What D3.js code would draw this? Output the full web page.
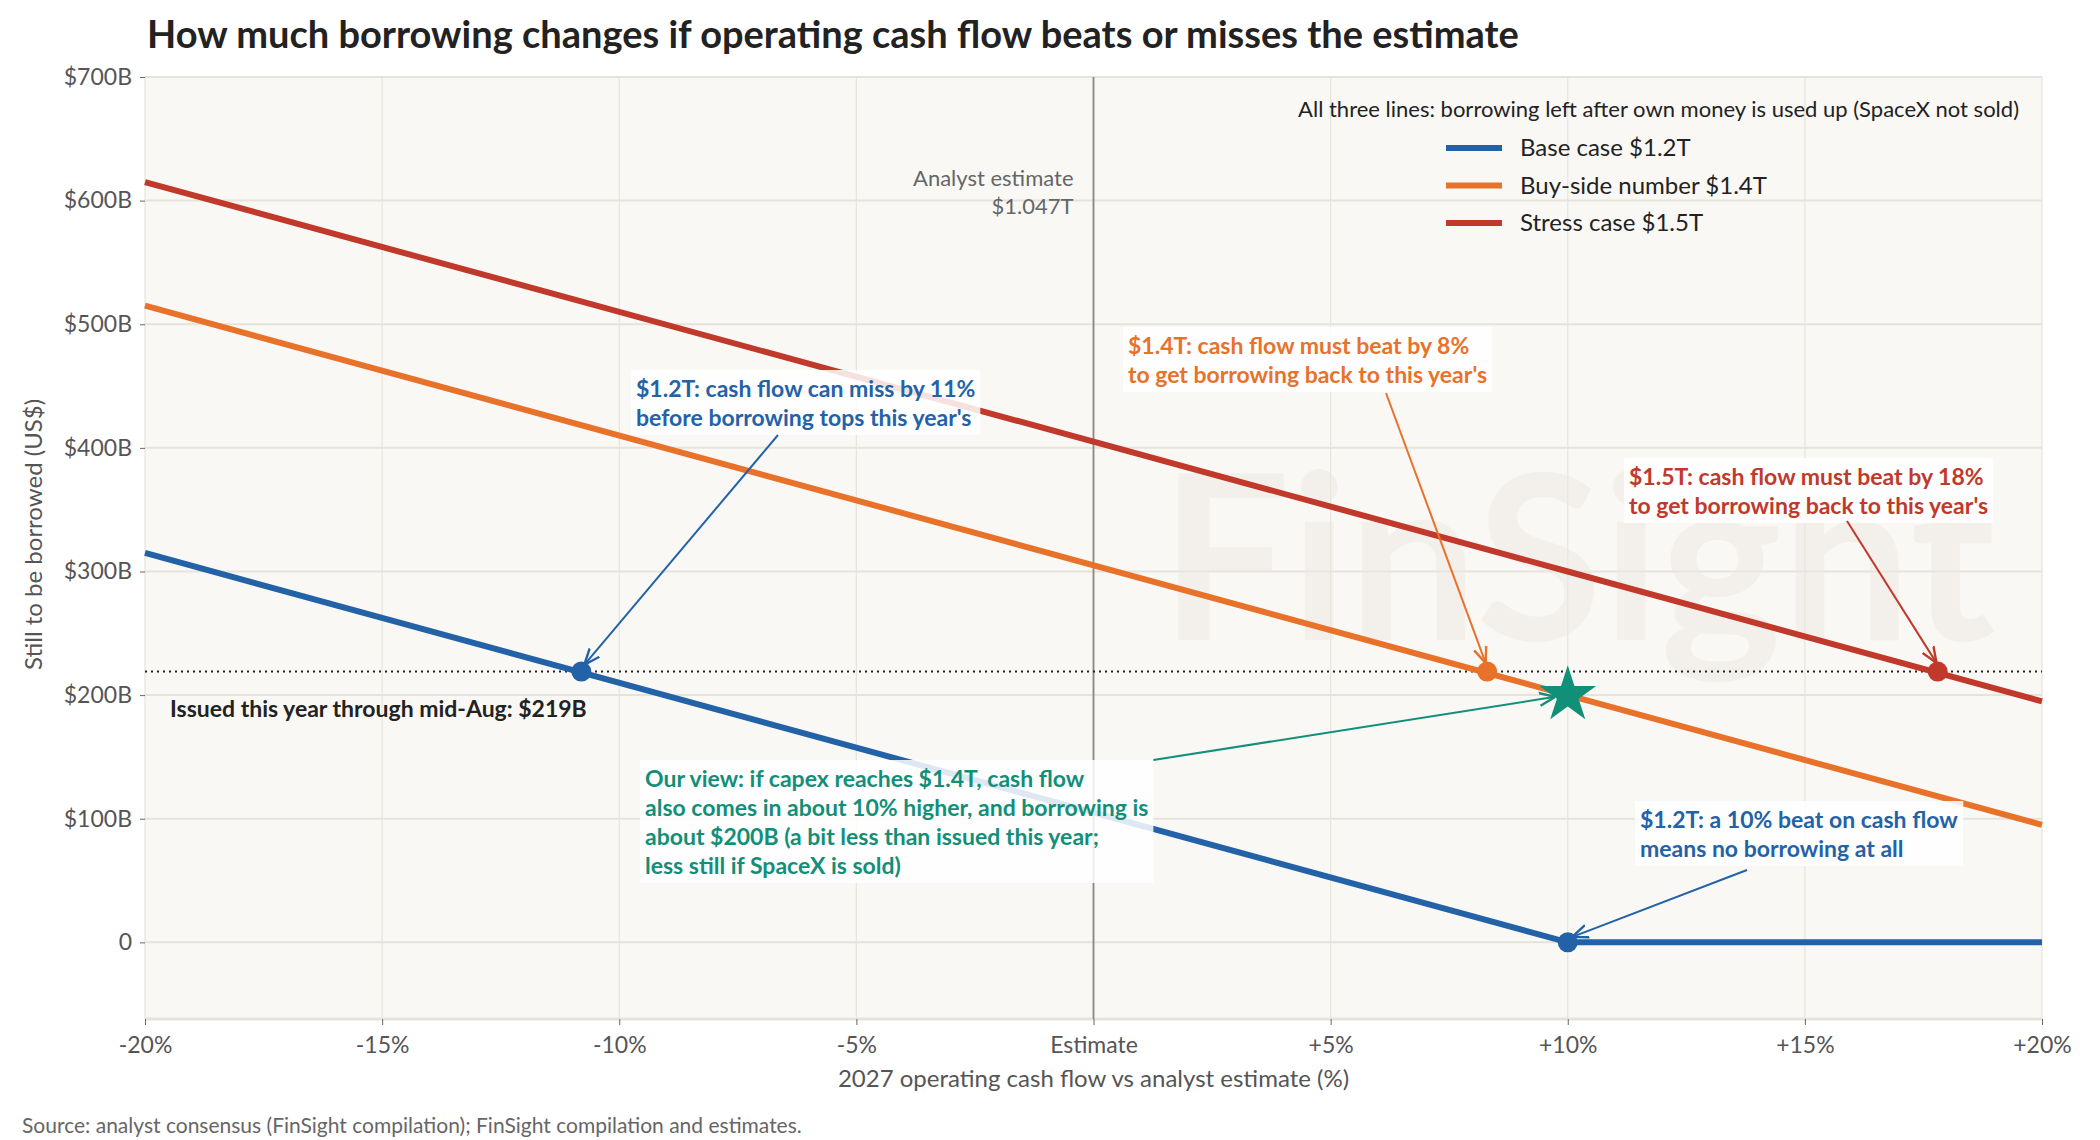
<!DOCTYPE html>
<html><head><meta charset="utf-8">
<script src="https://cdn.jsdelivr.net/npm/d3@7"></script>
<style>body{margin:0;background:#fff;font-family:Lato,"Noto Sans",sans-serif}</style>
</head><body><div id="chart"></div>
<script>
// scenario lines: x = % vs estimate, y = $B still to borrow
var xPts = [-20, 10, 20];
var baseVals = [315, 0, 0];
var buyVals = [515, 200, 95];
var stressVals = [615, 300, 195];
var issued = 219;
var xTicks = [-20, -15, -10, -5, 0, 5, 10, 15, 20];
var xTickLabels = ["-20%", "-15%", "-10%", "-5%", "Estimate", "+5%", "+10%", "+15%", "+20%"];
var yTicks = [0, 100, 200, 300, 400, 500, 600, 700];
var yTickLabels = ["0", "$100B", "$200B", "$300B", "$400B", "$500B", "$600B", "$700B"];
var seriesNames = ["Base case $1.2T", "Buy-side number $1.4T", "Stress case $1.5T"];
var colors = ["#2462a8", "#e8722a", "#c0392b"];
var green = "#128f78";

var W = 2100, H = 1140;
var m = {left: 145, right: 58, top: 77, bottom: 121};
var svg = d3.select("#chart").append("svg").attr("width", W).attr("height", H);
var x = d3.scaleLinear().domain([-20, 20]).range([m.left, W - m.right]);
var y = d3.scaleLinear().domain([-62, 700]).range([H - m.bottom, m.top]);

// title
svg.append("text").attr("x", 147).attr("y", 48).attr("font-size", 38).attr("font-weight", 700)
    .attr("fill", "#222").text("How much borrowing changes if operating cash flow beats or misses the estimate");

// plot background + grid
svg.append("rect").attr("x", x(-20)).attr("y", y(700)).attr("width", x(20) - x(-20))
    .attr("height", y(-62) - y(700)).attr("fill", "#f9f8f5");
svg.selectAll(".gx").data(xTicks).enter().append("line")
    .attr("x1", d => x(d)).attr("x2", d => x(d)).attr("y1", y(700)).attr("y2", y(-62))
    .attr("stroke", "#e8e5de").attr("stroke-width", 1.3);
svg.selectAll(".gy").data(yTicks).enter().append("line")
    .attr("x1", x(-20)).attr("x2", x(20)).attr("y1", d => y(d)).attr("y2", d => y(d))
    .attr("stroke", "#e6e3db").attr("stroke-width", 2);
svg.append("line").attr("x1", x(-20)).attr("x2", x(20)).attr("y1", y(-62)).attr("y2", y(-62))
    .attr("stroke", "#e6e3db").attr("stroke-width", 3);

// faint watermark
svg.append("text").attr("x", 1160).attr("y", 640).attr("font-size", 230).attr("font-weight", 700)
    .attr("fill", "#ece8e1").attr("opacity", 0.45).text("FinSight");

// axes
var xa = svg.append("g").attr("transform", "translate(0," + y(-62) + ")")
    .call(d3.axisBottom(x).tickValues(xTicks).tickFormat((d, i) => xTickLabels[i]).tickSize(6).tickPadding(12));
var ya = svg.append("g").attr("transform", "translate(" + x(-20) + ",0)")
    .call(d3.axisLeft(y).tickValues(yTicks).tickFormat((d, i) => yTickLabels[i]).tickSize(5).tickPadding(8));
[xa, ya].forEach(function(a) {
    a.select(".domain").remove();
    a.selectAll("text").attr("font-size", 23).attr("fill", "#555").attr("font-family", "Lato");
    a.selectAll("line").attr("stroke", "#666");
});

svg.append("text").attr("x", x(0)).attr("y", 1087).attr("text-anchor", "middle").attr("font-size", 24)
    .attr("fill", "#555").text("2027 operating cash flow vs analyst estimate (%)");
svg.append("text").attr("transform", "translate(42," + y(330) + ") rotate(-90)").attr("text-anchor", "middle")
    .attr("font-size", 24).attr("fill", "#555").text("Still to be borrowed (US$)");
svg.append("text").attr("x", 22).attr("y", 1133).attr("font-size", 21).attr("fill", "#666")
    .text("Source: analyst consensus (FinSight compilation); FinSight compilation and estimates.");

// estimate line
svg.append("line").attr("x1", x(0)).attr("x2", x(0)).attr("y1", y(700)).attr("y2", y(-62))
    .attr("stroke", "#888").attr("stroke-width", 1.8);
svg.append("text").attr("x", x(0) - 20).attr("y", 186).attr("text-anchor", "end").attr("font-size", 22)
    .attr("fill", "#666").text("Analyst estimate");
svg.append("text").attr("x", x(0) - 20).attr("y", 214).attr("text-anchor", "end").attr("font-size", 22)
    .attr("fill", "#666").text("$1.047T");

// issued dotted line
svg.append("line").attr("x1", x(-20)).attr("x2", x(20)).attr("y1", y(issued)).attr("y2", y(issued))
    .attr("stroke", "#222").attr("stroke-width", 2).attr("stroke-dasharray", "2,4");
svg.append("text").attr("x", 170).attr("y", 717).attr("font-size", 23).attr("font-weight", 700)
    .attr("fill", "#222").text("Issued this year through mid-Aug: $219B");

// lines
var line = d3.line().x(d => x(d[0])).y(d => y(d[1]));
[baseVals, buyVals, stressVals].forEach(function(vals, i) {
    svg.append("path").datum(xPts.map((p, j) => [p, vals[j]]))
        .attr("d", line).attr("fill", "none").attr("stroke", colors[i]).attr("stroke-width", 6);
});

// annotation helper
var marker = svg.append("defs");
function arrowHead(id, c) {
    marker.append("marker").attr("id", id).attr("viewBox", "0 0 10 10").attr("refX", 9).attr("refY", 5)
        .attr("markerWidth", 8).attr("markerHeight", 8).attr("orient", "auto")
        .append("path").attr("d", "M0,1 L10,5 L0,9").attr("fill", "none").attr("stroke", c).attr("stroke-width", 1.5);
}
// fx = null: start the arrow from the box's top-right corner
function note(lines, tx, ty, c, fx, fy, px, py, id) {
    var g = svg.append("g");
    var bg = g.append("rect").attr("fill", "#fff").attr("opacity", 0.85);
    var t = g.append("text").attr("font-size", 23).attr("font-weight", 700).attr("fill", c);
    lines.forEach((l, i) => t.append("tspan").attr("x", tx).attr("y", ty + i * 29).text(l));
    var b = t.node().getBBox();
    bg.attr("x", b.x - 5).attr("y", b.y - 4).attr("width", b.width + 10).attr("height", b.height + 8);
    if (fx === null) { fx = b.x + b.width + 5; fy = b.y - 4; }
    arrowHead(id, c);
    svg.append("line").attr("x1", fx).attr("y1", fy).attr("x2", px).attr("y2", py)
        .attr("stroke", c).attr("stroke-width", 2).attr("marker-end", "url(#" + id + ")");
}
note(["$1.2T: cash flow can miss by 11%", "before borrowing tops this year's"], 636, 397, colors[0],
    778, 435, x(-10.8) + 4, y(issued) - 8, "a1");
note(["$1.4T: cash flow must beat by 8%", "to get borrowing back to this year's"], 1128, 354, colors[1],
    1386, 393, x(8.3) - 2, y(issued) - 10, "a2");
note(["$1.5T: cash flow must beat by 18%", "to get borrowing back to this year's"], 1629, 485, colors[2],
    1847, 521, x(17.8) - 2, y(issued) - 10, "a3");
note(["Our view: if capex reaches $1.4T, cash flow", "also comes in about 10% higher, and borrowing is",
    "about $200B (a bit less than issued this year;", "less still if SpaceX is sold)"], 645, 787, green,
    null, null, x(10) - 14, y(200) + 2, "a4");
note(["$1.2T: a 10% beat on cash flow", "means no borrowing at all"], 1640, 828, colors[0],
    1747, 870, x(10) + 6, y(0) - 6, "a5");

// markers
[[-10.8, 0], [8.3, 1], [17.8, 2]].forEach(function(p) {
    svg.append("circle").attr("cx", x(p[0])).attr("cy", y(issued)).attr("r", 10).attr("fill", colors[p[1]]);
});
svg.append("circle").attr("cx", x(10)).attr("cy", y(0)).attr("r", 10).attr("fill", colors[0]);
svg.append("path").attr("d", d3.symbol(d3.symbolStar, 1000)()).attr("fill", green)
    .attr("transform", "translate(" + x(10) + "," + y(200) + ")");

// legend
svg.append("text").attr("x", 2019).attr("y", 117).attr("text-anchor", "end").attr("font-size", 22)
    .attr("fill", "#222").text("All three lines: borrowing left after own money is used up (SpaceX not sold)");
var leg = svg.selectAll(".leg").data(seriesNames).enter().append("g")
    .attr("transform", (d, i) => "translate(1446," + (148 + i * 37.5) + ")");
leg.append("line").attr("x1", 0).attr("x2", 56).attr("stroke", (d, i) => colors[i]).attr("stroke-width", 6);
leg.append("text").attr("x", 74).attr("y", 8).attr("font-size", 24).attr("fill", "#222").text(d => d);
</script></body></html>
